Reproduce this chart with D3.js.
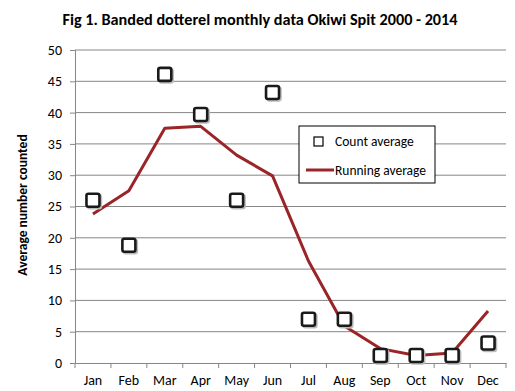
<!DOCTYPE html>
<html>
<head>
<meta charset="utf-8">
<script src="https://cdn.jsdelivr.net/npm/d3@7"></script>
<style>
  body { margin: 0; background: #fff; }
  svg text { font-family: Carlito, Calibri, "Open Sans", sans-serif; fill: #000; }
</style>
</head>
<body>
<div id="chart"></div>
<script>
const svgWidth = 515;
const svgHeight = 391;

const margin = { top: 50, right: 9, bottom: 28, left: 75 };
const width = svgWidth - margin.left - margin.right;
const height = svgHeight - margin.top - margin.bottom;

// Data
const months = ["Jan", "Feb", "Mar", "Apr", "May", "Jun", "Jul", "Aug", "Sep", "Oct", "Nov", "Dec"];
const countAverage = [26, 18.8, 46.1, 39.7, 26, 43.2, 7, 7, 1.2, 1.2, 1.2, 3.2];
const runningAverage = [23.8, 27.5, 37.5, 37.8, 33.2, 29.9, 16.3, 5.9, 2.3, 1.2, 1.6, 8.3];
const yTicks = [0, 5, 10, 15, 20, 25, 30, 35, 40, 45, 50];

const svg = d3.select("#chart")
  .append("svg")
  .attr("width", svgWidth)
  .attr("height", svgHeight);

const chartGroup = svg.append("g")
  .attr("transform", `translate(${margin.left}, ${margin.top})`);

// scales
const xScale = d3.scaleBand().domain(months).range([0, width]);
const yScale = d3.scaleLinear().domain([0, 50]).range([height, 0]);

// gridlines
chartGroup.append("g")
  .selectAll("line")
  .data(yTicks.filter(d => d > 0))
  .enter()
  .append("line")
  .attr("x1", 0)
  .attr("x2", width)
  .attr("y1", d => yScale(d))
  .attr("y2", d => yScale(d))
  .attr("stroke", "#868686")
  .attr("stroke-width", 1);

// y axis
const yAxis = chartGroup.append("g")
  .call(d3.axisLeft(yScale).tickValues(yTicks).tickSize(5).tickPadding(8));
yAxis.select(".domain").attr("stroke", "#868686");
yAxis.selectAll(".tick line").attr("stroke", "#868686");
yAxis.selectAll("text").attr("font-size", 14);

// x axis
const xAxis = chartGroup.append("g")
  .attr("transform", `translate(0, ${height})`)
  .call(d3.axisBottom(xScale).tickSize(0).tickPadding(12));
xAxis.select(".domain").attr("stroke", "#868686");
xAxis.selectAll("text").attr("font-size", 14);

// category boundary ticks
chartGroup.append("g")
  .selectAll("line")
  .data(months.concat(["end"]))
  .enter()
  .append("line")
  .attr("x1", (d, i) => i * xScale.bandwidth())
  .attr("x2", (d, i) => i * xScale.bandwidth())
  .attr("y1", height)
  .attr("y2", height + 5)
  .attr("stroke", "#868686");

// running average line
const line = d3.line()
  .x((d, i) => xScale(months[i]) + xScale.bandwidth() / 2)
  .y(d => yScale(d));

chartGroup.append("path")
  .datum(runningAverage)
  .attr("d", line)
  .attr("fill", "none")
  .attr("stroke", "#9a2428")
  .attr("stroke-width", 3)
  .attr("stroke-linejoin", "round");

// count average squares
const sq = 13;
const squares = chartGroup.append("g")
  .selectAll("g")
  .data(countAverage)
  .enter()
  .append("g")
  .attr("transform", (d, i) => `translate(${xScale(months[i]) + xScale.bandwidth() / 2}, ${yScale(d)})`);

squares.append("rect")
  .attr("x", -sq / 2 + 1.5)
  .attr("y", -sq / 2 + 1.5)
  .attr("width", sq)
  .attr("height", sq)
  .attr("rx", 2)
  .attr("fill", "none")
  .attr("stroke", "#bbb")
  .attr("stroke-width", 2.5);

squares.append("rect")
  .attr("x", -sq / 2)
  .attr("y", -sq / 2)
  .attr("width", sq)
  .attr("height", sq)
  .attr("rx", 2)
  .attr("fill", "#fff")
  .attr("stroke", "#1a1a1a")
  .attr("stroke-width", 2.6);

// legend
const legend = svg.append("g").attr("transform", "translate(299, 126)");
legend.append("rect")
  .attr("width", 136)
  .attr("height", 57)
  .attr("fill", "#fff")
  .attr("stroke", "#000")
  .attr("stroke-width", 1);

legend.append("rect")
  .attr("x", 15)
  .attr("y", 11)
  .attr("width", 9)
  .attr("height", 9)
  .attr("fill", "#fff")
  .attr("stroke", "#000")
  .attr("stroke-width", 1.2);

legend.append("text")
  .attr("x", 36)
  .attr("y", 20)
  .attr("font-size", 13.5)
  .text("Count average");

legend.append("line")
  .attr("x1", 7)
  .attr("x2", 35)
  .attr("y1", 44)
  .attr("y2", 44)
  .attr("stroke", "#9a2428")
  .attr("stroke-width", 3);

legend.append("text")
  .attr("x", 36)
  .attr("y", 49)
  .attr("font-size", 13.5)
  .text("Running average");

// title
svg.append("text")
  .attr("x", 260)
  .attr("y", 25)
  .attr("text-anchor", "middle")
  .attr("font-size", 16)
  .attr("font-weight", "bold")
  .attr("textLength", 395)
  .attr("lengthAdjust", "spacingAndGlyphs")
  .text("Fig 1. Banded dotterel monthly data Okiwi Spit 2000 - 2014");

// y axis label
svg.append("text")
  .attr("transform", "rotate(-90)")
  .attr("x", -205)
  .attr("y", 27)
  .attr("text-anchor", "middle")
  .attr("font-size", 13.5)
  .attr("font-weight", "bold")
  .text("Average number counted");
</script>
</body>
</html>
